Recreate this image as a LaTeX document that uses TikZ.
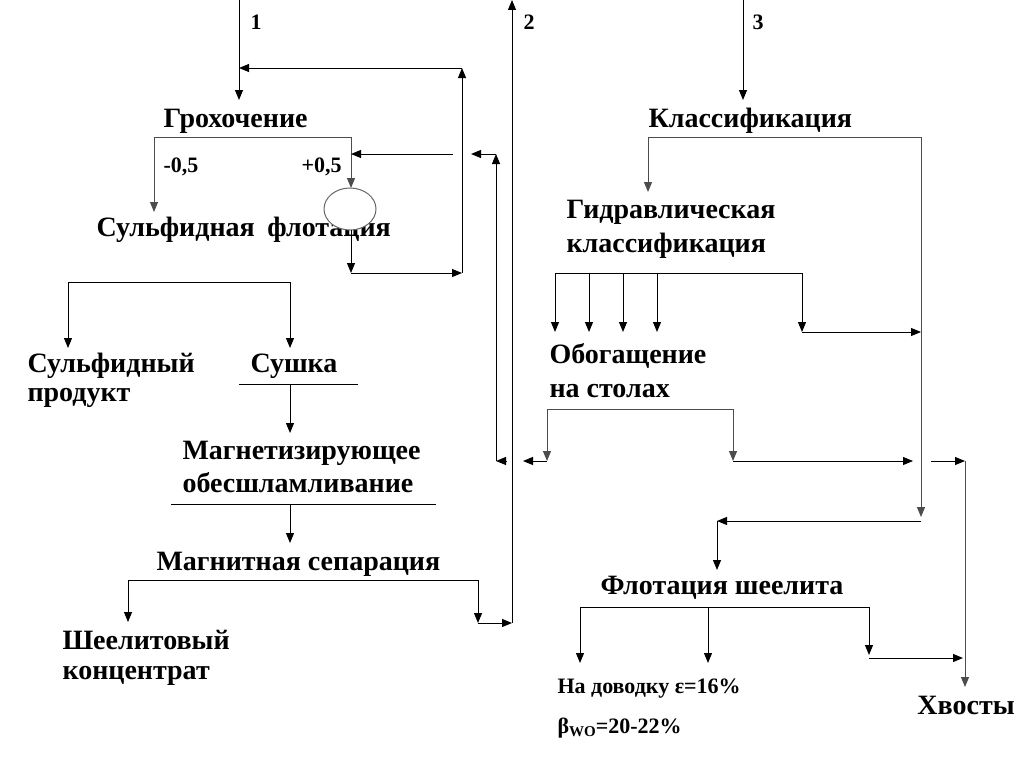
\documentclass[tikz,border=0pt]{standalone}
\usepackage{fontspec}
\setmainfont{Liberation Serif}
\usetikzlibrary{arrows.meta,shapes.geometric}
\begin{document}
\begin{tikzpicture}[x=1pt,y=-1pt,line width=1pt,
  flow/.style={-{Triangle[length=10pt,width=8pt]}},
  bflow/.style={{Triangle[length=10pt,width=8pt]}-{Triangle[length=10pt,width=8pt]}},
  gline/.style={draw=black!70},
  lbl/.style={anchor=base west,inner sep=0pt,font=\fontsize{28}{32}\selectfont\bfseries},
  lbls/.style={anchor=base west,inner sep=0pt,font=\fontsize{22}{24}\selectfont\bfseries}]
\useasboundingbox (0,0) rectangle (1024,768);

% ---------- text nodes ----------
\node[lbls] (t1) at (250,30) {1};
\node[lbls] (t2) at (523,30) {2};
\node[lbls] (t3) at (752,30) {3};
\node[lbl] (grokh) at (163,127) {Грохочение};
\node[lbls] (m05) at (163,172) {-0,5};
\node[lbls] (p05) at (301,172) {+0,5};
\node[lbl] (sulflot) at (96,236) {Сульфидная\hspace{0.45em}флотация};
\node[draw=black!60,fill=white,ellipse,minimum width=52pt,minimum height=42pt,inner sep=0pt] (circ) at (350,209) {};
\node[lbl] (sulprodA) at (27,372) {Сульфидный};
\node[lbl] (sulprodB) at (27,401) {продукт};
\node[lbl] (sushka) at (250,372) {Сушка};
\node[lbl] (magA) at (182,459) {Магнетизирующее};
\node[lbl] (magB) at (182,492) {обесшламливание};
\node[lbl] (magsep) at (156,570) {Магнитная сепарация};
\node[lbl] (sheelA) at (62,649) {Шеелитовый};
\node[lbl] (sheelB) at (62,679) {концентрат};
\node[lbl] (klass) at (648,127) {Классификация};
\node[lbl] (gidrA) at (566,218) {Гидравлическая};
\node[lbl] (gidrB) at (566,252) {классификация};
\node[lbl] (obogA) at (549,363) {Обогащение};
\node[lbl] (obogB) at (549,397) {на столах};
\node[lbl] (flsh) at (600,594) {Флотация шеелита};
\node[lbls] (dovA) at (557,693) {На доводку ε=16\%};
\node[lbls] (dovB) at (557,733) {β\raisebox{-0.35ex}{\fontsize{15}{15}\selectfont WO}=20-22\%};
\node[lbl,anchor=base] (khvost) at (966,714) {Хвосты};

% ---------- coordinates ----------
\coordinate (in1) at (239,0);   \coordinate (g0) at (239,100);
\coordinate (rc) at (239,68);   \coordinate (rc2) at (462,68);  \coordinate (rc3) at (462,273);
\coordinate (gl) at (154,212);  \coordinate (gl2) at (154,137); \coordinate (gr2) at (351,137); \coordinate (gr) at (351,188);
\coordinate (cb) at (351,230);  \coordinate (cb2) at (351,273);
\coordinate (ri) at (351,154);  \coordinate (ri2) at (453,154);
\coordinate (bk1) at (506,461); \coordinate (bk2) at (496,461); \coordinate (bk3) at (496,154); \coordinate (bk4) at (471,154);
\coordinate (sp1) at (68,348);  \coordinate (sp2) at (68,282);  \coordinate (sp3) at (290,282); \coordinate (sp4) at (290,348);
\coordinate (su1) at (239,384); \coordinate (su2) at (358,384); \coordinate (su3) at (290,384); \coordinate (su4) at (290,433);
\coordinate (mo1) at (171,504); \coordinate (mo2) at (436,504); \coordinate (mo3) at (290,504); \coordinate (mo4) at (290,543);
\coordinate (ms1) at (128,622); \coordinate (ms2) at (128,580); \coordinate (ms3) at (478,580); \coordinate (ms4) at (478,623);
\coordinate (out2) at (512,623); \coordinate (top2) at (512,0);
\coordinate (in3) at (743,0);   \coordinate (k0) at (743,100);
\coordinate (kl1) at (648,192); \coordinate (kl2) at (648,137); \coordinate (kr2) at (921,137); \coordinate (kr) at (921,517);
\coordinate (kb) at (921,521);  \coordinate (kb2) at (717,521); \coordinate (kb3) at (717,570);
\coordinate (h1) at (555,332);  \coordinate (h1t) at (555,273); \coordinate (h5t) at (802,273); \coordinate (h5) at (802,332);
\coordinate (h2t) at (589,273); \coordinate (h2) at (589,332);
\coordinate (h3t) at (623,273); \coordinate (h3) at (623,332);
\coordinate (h4t) at (657,273); \coordinate (h4) at (657,332);
\coordinate (h5r) at (921,332);
\coordinate (o1) at (547,461);  \coordinate (o1t) at (547,409); \coordinate (o2t) at (733,409); \coordinate (o2) at (733,461);
\coordinate (o1l) at (523,461); \coordinate (o2r) at (913,461);
\coordinate (x1) at (931,461);  \coordinate (x2) at (965,461);  \coordinate (x3) at (965,687);
\coordinate (f1) at (580,663);  \coordinate (f1t) at (580,607); \coordinate (f3t) at (869,607); \coordinate (f3) at (869,655);
\coordinate (f2t) at (708,607); \coordinate (f2) at (708,663);  \coordinate (f3b) at (869,658); \coordinate (f3r) at (963,658);

% ---------- left branch ----------
\draw[flow] (in1) -- (g0);
\draw[flow] (rc3) -- (rc2);
\draw[flow] (rc2) -- (rc);
\draw[bflow,gline] (gl) -- (gl2) -- (gr2) -- (gr);
\draw[flow] (ri2) -- (ri);
\draw[flow] (cb) -- (cb2);
\draw[flow] (cb2) -- (rc3);
\draw[flow] (bk1) -- (bk2);
\draw[flow] (bk2) -- (bk3);
\draw[flow] (bk3) -- (bk4);
\draw[bflow] (sp1) -- (sp2) -- (sp3) -- (sp4);
\draw (su1) -- (su2);
\draw[flow] (su3) -- (su4);
\draw (mo1) -- (mo2);
\draw[flow] (mo3) -- (mo4);
\draw[bflow] (ms1) -- (ms2) -- (ms3) -- (ms4);
\draw[flow] (ms4) -- (out2);
\draw[flow] (out2) -- (top2);

% ---------- right branch ----------
\draw[flow] (in3) -- (k0);
\draw[bflow,gline] (kl1) -- (kl2) -- (kr2) -- (kr);
\draw[flow] (kb) -- (kb2);
\draw[flow] (kb2) -- (kb3);
\draw[bflow] (h1) -- (h1t) -- (h5t) -- (h5);
\draw[flow] (h2t) -- (h2);
\draw[flow] (h3t) -- (h3);
\draw[flow] (h4t) -- (h4);
\draw[flow] (h5) -- (h5r);
\draw[bflow,gline] (o1) -- (o1t) -- (o2t) -- (o2);
\draw[flow] (o1) -- (o1l);
\draw[flow] (o2) -- (o2r);
\draw[flow] (x1) -- (x2);
\draw[flow,gline] (x2) -- (x3);
\draw[bflow] (f1) -- (f1t) -- (f3t) -- (f3);
\draw[flow] (f2t) -- (f2);
\draw[flow] (f3b) -- (f3r);
\end{tikzpicture}
\end{document}
